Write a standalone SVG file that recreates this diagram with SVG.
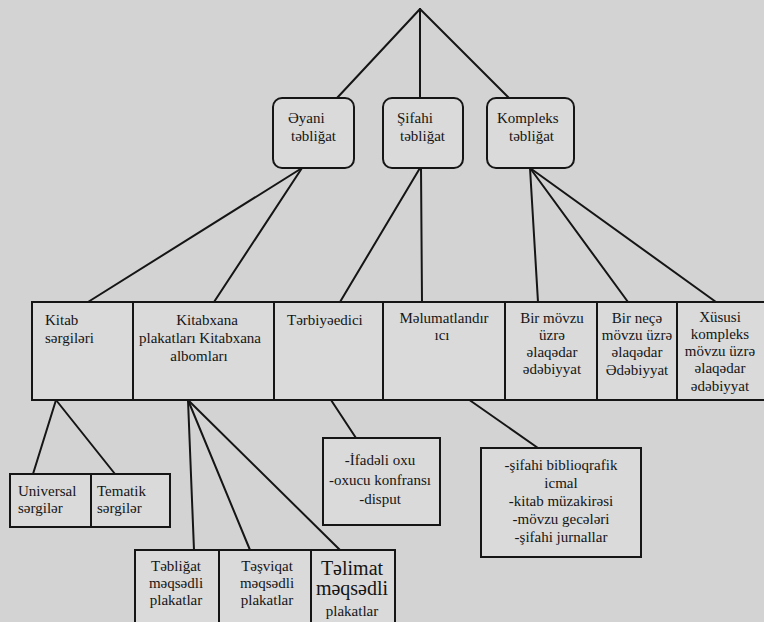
<svg xmlns="http://www.w3.org/2000/svg" width="764" height="622" viewBox="0 0 764 622">
<style>
.ln{stroke:#151515;stroke-width:2;fill:none;stroke-linecap:round}
.bx{fill:#dadada;stroke:#151515;stroke-width:2}
.t{font-family:"Liberation Serif","DejaVu Serif",serif;font-size:15px;fill:#151515}
.c{text-anchor:middle}
.big{font-size:20px}
</style>
<rect width="764" height="622" fill="#d3d3d3"/>
<g id="connectors" class="ln">
<line x1="420" y1="9" x2="337" y2="98"/>
<line x1="420" y1="9" x2="420" y2="98"/>
<line x1="420" y1="9" x2="509" y2="98"/>
<line x1="302" y1="168" x2="88" y2="302"/>
<line x1="302" y1="168" x2="214" y2="302"/>
<line x1="420" y1="168" x2="340" y2="302"/>
<line x1="421" y1="168" x2="422" y2="302"/>
<line x1="530" y1="168" x2="538" y2="302"/>
<line x1="530" y1="168" x2="628" y2="302"/>
<line x1="530" y1="168" x2="716" y2="302"/>
<line x1="56" y1="400" x2="33" y2="474"/>
<line x1="56" y1="400" x2="115" y2="474"/>
<line x1="188" y1="400" x2="194" y2="550"/>
<line x1="188" y1="400" x2="250" y2="550"/>
<line x1="188" y1="400" x2="340" y2="550"/>
<line x1="331" y1="400" x2="356" y2="438"/>
<line x1="468" y1="399" x2="538" y2="448"/>
</g>
<g id="eyani"><rect class="bx" x="273" y="98" width="81" height="70" rx="9"/><text class="t" x="288" y="123">Əyani</text><text class="t" x="291" y="141">təbliğat</text></g>
<g id="sifahi"><rect class="bx" x="383" y="98" width="80" height="70" rx="9"/><text class="t" x="397" y="123">Şifahi</text><text class="t" x="400" y="141">təbliğat</text></g>
<g id="kompleks"><rect class="bx" x="487" y="98" width="87" height="70" rx="9"/><text class="t" x="497" y="123">Kompleks</text><text class="t" x="509" y="141">təbliğat</text></g>
<g id="kitab-sergileri"><rect class="bx" x="32" y="302" width="101" height="98"/><text class="t" x="45" y="325">Kitab</text><text class="t" x="45" y="343">sərgiləri</text></g>
<g id="kitabxana"><rect class="bx" x="133" y="302" width="141" height="98"/><text class="t c" x="207" y="325">Kitabxana</text><text class="t c" x="200" y="343">plakatları Kitabxana</text><text class="t c" x="199" y="361">albomları</text></g>
<g id="terbiyeedici"><rect class="bx" x="274" y="302" width="109" height="98"/><text class="t" x="287" y="325">Tərbiyəedici</text></g>
<g id="melumatlandirici"><rect class="bx" x="383" y="302" width="122" height="98"/><text class="t c" x="444" y="323">Məlumatlandır</text><text class="t c" x="442" y="340">ıcı</text></g>
<g id="bir-movzu"><rect class="bx" x="505" y="302" width="92" height="98"/><text class="t c" x="552" y="323">Bir mövzu</text><text class="t c" x="552" y="340">üzrə</text><text class="t c" x="552" y="357">əlaqədar</text><text class="t c" x="552" y="374">ədəbiyyat</text></g>
<g id="bir-nece"><rect class="bx" x="597" y="302" width="80" height="98"/><text class="t c" x="637" y="323">Bir neçə</text><text class="t c" x="637" y="340">mövzu üzrə</text><text class="t c" x="637" y="357">əlaqədar</text><text class="t c" x="637" y="375">Ədəbiyyat</text></g>
<g id="xususi"><rect class="bx" x="677" y="302" width="90" height="98"/><text class="t c" x="720" y="322">Xüsusi</text><text class="t c" x="720" y="339">kompleks</text><text class="t c" x="720" y="356">mövzu üzrə</text><text class="t c" x="720" y="373">əlaqədar</text><text class="t c" x="720" y="391">ədəbiyyat</text></g>
<g id="universal"><rect class="bx" x="10" y="474" width="81" height="53"/><text class="t" x="18" y="496">Universal</text><text class="t" x="18" y="513">sərgilər</text></g>
<g id="tematik"><rect class="bx" x="91" y="474" width="79" height="53"/><text class="t" x="97" y="496">Tematik</text><text class="t" x="97" y="513">sərgilər</text></g>
<g id="ifadeli"><rect class="bx" x="323" y="438" width="117" height="87"/><text class="t c" x="380" y="465">-İfadəli oxu</text><text class="t c" x="380" y="485">-oxucu konfransı</text><text class="t c" x="380" y="504">-disput</text></g>
<g id="sifahi-list"><rect class="bx" x="481" y="448" width="160" height="109"/><text class="t c" x="561" y="470">-şifahi biblioqrafik</text><text class="t c" x="561" y="488">icmal</text><text class="t c" x="561" y="506">-kitab müzakirəsi</text><text class="t c" x="561" y="524">-mövzu gecələri</text><text class="t c" x="561" y="542">-şifahi jurnallar</text></g>
<g id="tebligat-plakat"><rect class="bx" x="135" y="550" width="84" height="80"/><text class="t c" x="176" y="571">Təbliğat</text><text class="t c" x="176" y="588">məqsədli</text><text class="t c" x="176" y="605">plakatlar</text></g>
<g id="tesviqat-plakat"><rect class="bx" x="219" y="550" width="92" height="80"/><text class="t c" x="267" y="571">Təşviqat</text><text class="t c" x="267" y="588">məqsədli</text><text class="t c" x="267" y="605">plakatlar</text></g>
<g id="telimat-plakat"><rect class="bx" x="311" y="550" width="84" height="80"/><text class="t c big" x="352" y="575">Təlimat</text><text class="t c big" x="352" y="595">məqsədli</text><text class="t c" x="352" y="616">plakatlar</text></g>
</svg>
